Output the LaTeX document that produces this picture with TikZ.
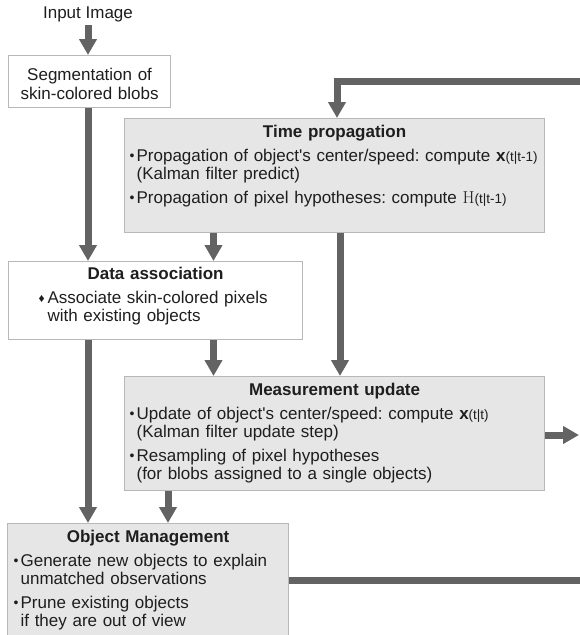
\documentclass[tikz,border=0pt]{standalone}
\usepackage[no-math]{fontspec}
\setmainfont[Ligatures=TeXOff]{Liberation Sans}
\usetikzlibrary{arrows.meta, positioning, calc}
\definecolor{arrowgray}{HTML}{636363}
\definecolor{boxline}{HTML}{B8B8B8}
\definecolor{boxfill}{HTML}{E6E6E6}
\definecolor{inkgray}{HTML}{1E1E1E}
\frenchspacing
\newcommand{\dotsym}{\raisebox{0.8pt}{\fontsize{14}{14}\selectfont •}}
\newcommand{\diasym}{\raisebox{1pt}{\fontsize{12}{12}\selectfont ♦}}
\newcommand{\ptitem}[3][7pt]{\par\vspace{5pt}\hangindent=#1\hangafter=1\noindent\makebox[#1][l]{#2}#3\par}
\newcommand{\boxtitle}[1]{{\centering\bfseries #1\par}}
\newcommand{\tsub}[1]{\raisebox{-0.5pt}{\fontsize{13.5}{13.5}\selectfont #1}}
\tikzset{
    panel/.style={draw=boxline, fill=boxfill, line width=1.2pt, anchor=north west, inner xsep=6pt, inner ysep=0pt, align=left, text=inkgray, font=\fontsize{17}{18.5}\selectfont},
    whitepanel/.style={panel, fill=white},
    widepanel/.style={panel, inner xsep=5pt, text width=410pt, text height=19pt, text depth=95pt},
    flow/.style={draw=arrowgray, line width=7pt, -{Triangle[width=17pt,length=16pt]}},
    feed/.style={draw=arrowgray, line width=7pt}
}

\begin{document}
\begin{tikzpicture}[x=1pt, y=-1pt]
    \useasboundingbox (0,0) rectangle (580,635);
    \clip (0,0) rectangle (580,635);

    \node (input) [anchor=base, text=inkgray, font=\fontsize{17}{18.5}\selectfont] at (88,18) {Input Image};
    \node (seg) [whitepanel, align=center, text width=150pt, text height=25pt, text depth=27pt] at (8,55)
        {Segmentation of\\skin-colored blobs};

    \node (time) [widepanel] at (124,118) {%
        \boxtitle{Time propagation}
        \ptitem{\dotsym}{\mbox{Propagation of object's center/speed: compute \textbf{x}\tsub{(t|t-1)}}\newline(Kalman filter predict)}
        \ptitem{\dotsym}{Propagation of pixel hypotheses: compute {\fontsize{18}{18}\selectfont$\mathrm{H}$}\tsub{(t|t-1)}}};

    \node (data) [whitepanel, inner xsep=30pt, text width=234pt, text height=18pt, text depth=60pt] at (8,261) {%
        \boxtitle{Data association}
        \ptitem[9pt]{\diasym}{Associate skin-colored pixels\newline with existing objects}};

    \node (meas) [widepanel] at (124,376) {%
        \boxtitle{Measurement update}
        \ptitem{\dotsym}{Update of object's center/speed: compute \textbf{x}\tsub{(t|t)}\newline(Kalman filter update step)}
        \ptitem{\dotsym}{Resampling of pixel hypotheses\newline(for blobs assigned to a single objects)}};

    \node (obj) [panel, text width=269pt, text height=19pt, text depth=120pt] at (7,523) {%
        \boxtitle{Object Management}
        \ptitem{\dotsym}{Generate new objects to explain\newline unmatched observations}
        \ptitem{\dotsym}{Prune existing objects\newline if they are out of view}};

    % lanes of the vertical connectors
    \coordinate (leftlane) at (88,0);
    \coordinate (midlane) at (213.5,0);
    \coordinate (rightlane) at (340,0);
    \coordinate (feedx) at (337,0);
    \coordinate (updx) at (168,0);
    \coordinate (loopin) at (590,81);
    \coordinate (measout) at (579,435);
    \coordinate (loopout) at (590,580);

    \draw [flow] (input.south) -- (input.south |- seg.north);
    \draw [flow] (seg.south -| leftlane) -- (leftlane |- data.north);
    \draw [flow] (data.south -| leftlane) -- (leftlane |- obj.north);
    \draw [flow] (time.south -| midlane) -- (midlane |- data.north);
    \draw [flow] (data.south -| midlane) -- (midlane |- meas.north);
    \draw [flow] (time.south -| rightlane) -- (rightlane |- meas.north);
    \draw [flow] (meas.south -| updx) -- (updx |- obj.north);
    \draw [flow] (meas.east |- measout) -- (measout);

    % loop back from the right edge
    \draw [flow, line join=miter] (loopin) -- (feedx |- loopin) -- (feedx |- time.north);
    \draw [feed] (obj.east |- loopout) -- (loopout);
\end{tikzpicture}
\end{document}
